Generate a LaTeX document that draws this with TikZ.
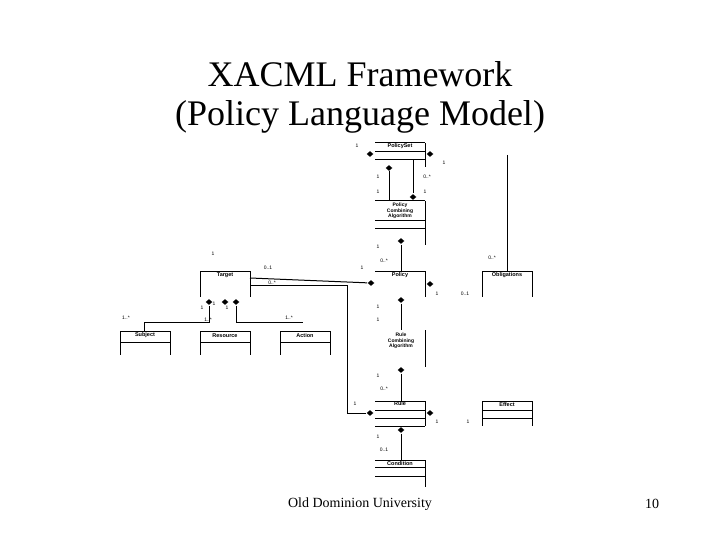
\documentclass[tikz,border=0pt]{standalone}
\usepackage{fontspec}
\usetikzlibrary{shapes.geometric}
\setmainfont{Liberation Serif}
\newfontfamily\uml{Liberation Sans}
\begin{document}
\begin{tikzpicture}[x=1pt,y=-1pt,line width=1pt,
  cls/.style={font=\uml\bfseries\fontsize{5.5}{6}\selectfont,align=center,inner sep=0},
  mult/.style={font=\uml\fontsize{5}{5}\selectfont,inner sep=0},
  dia/.style={fill=black,diamond,inner sep=0,minimum width=7pt,minimum height=6pt},
  lbl/.style={font=\fontsize{36}{38}\selectfont}]
\useasboundingbox (0,0) rectangle (720,540);
\node[lbl] (t1) at (360,74) {XACML Framework};
\node[lbl] (t2) at (360,117) {(Policy Language Model)};
\node[font=\fontsize{14}{16}\selectfont] (ft) at (360,504) {Old Dominion University};
\node[font=\fontsize{14}{16}\selectfont] (pg) at (652,504) {10};
% PolicySet
\draw (375,143)--(425,143) (375,152)--(425,152) (375,160)--(425,160) (425,143)--(425,167);
\node[cls] (ps) at (400,146) {PolicySet};
\node[dia] (psl) at (370,154) {};
\node[dia] (psr) at (430,154) {};
% PCA
\draw (375,201)--(425,201) (375,221)--(425,221) (375,229)--(425,229) (425,201)--(425,245);
\node[cls,font=\uml\bfseries\fontsize{5}{5.5}\selectfont] (pca) at (400,211) {Policy\\Combining\\Algorithm};
\node[dia] (d1) at (389,168) {};
\draw (d1)--(389,201);
\node[dia] (d2) at (413,197) {};
\draw (413,160)--(d2);
\node[dia] (d3) at (401,241) {};
% Policy
\draw (375,271)--(425,271) (425,271)--(425,297);
\node[cls] (pol) at (400,275) {Policy};
\draw (d3)--(401,271);
\node[dia] (pl) at (371,283) {};
\node[dia] (pr) at (430,284) {};
\node[dia] (pb) at (401,300) {};
% Obligations
\draw (482,271)--(532,271) (482,271)--(482,297) (532,271)--(532,297);
\node[cls] (obl) at (507,275) {Obligations};
\coordinate (oc) at (507,155);
\draw (oc)--(507,271);
% Target
\draw (200,271)--(250,271) (200,271)--(200,297) (250,271)--(250,297);
\node[cls] (tg) at (225,275) {Target};
\draw (250,278)--(pl);
\draw (250,285)--(347,285)--(347,413)--(366,413);
\node[dia] (ta) at (209,302) {};
\node[dia] (tb) at (225,302) {};
\node[dia] (tc) at (236,302) {};
% Subject, Resource, Action
\foreach \x/\n/\t in {120/sub/Subject,200/res/Resource,280/act/Action}{
 \draw (\x,331)--(\x+50,331) (\x,342)--(\x+50,342) (\x,331)--(\x,355) (\x+50,331)--(\x+50,355);
 \node[cls] (\n) at (\x+25,335.5) {\t};}
\draw (144,331)--(144,322)--(209,322)--(ta);
\draw (tc)--(236,322)--(303,322);
% RCA
\draw (425,330)--(425,367);
\node[cls,font=\uml\bfseries\fontsize{5}{5.5}\selectfont] (rca) at (401,341) {Rule\\Combining\\Algorithm};
\draw (pb)--(401,330);
\node[dia] (d4) at (401,370) {};
% Rule
\draw (375,401)--(425,401) (375,410)--(425,410) (375,418)--(425,418) (375,426)--(425,426) (425,401)--(425,426);
\node[cls] (rule) at (400,404) {Rule};
\draw (d4)--(401,401);
\node[dia] (rl) at (370,413) {};
\node[dia] (rr) at (430,413) {};
% Effect
\draw (482,401)--(532,401) (482,410)--(532,410) (482,418)--(532,418) (482,401)--(482,426) (532,401)--(532,426);
\node[cls] (eff) at (507,405) {Effect};
% Condition
\node[dia] (d5) at (401,430) {};
\draw (d5)--(401,460);
\draw (375,460)--(425,460) (375,467)--(425,467) (375,476)--(425,476) (425,460)--(425,487);
\node[cls] (cond) at (400,463.5) {Condition};
% multiplicities
\foreach \x/\y/\t in {357/146/1,444/163/1,378/177/1,427/177/0..*,378/192/1,425/192/1,
 378/247/1,384/261/0..*,362/268/1,492/258/0..*,437/294/1,465/294/0..1,
 213/254/1,268/268/0..1,272/283/0..*,202/308/1,214/304/1,227/308/1,126/318/1..*,208/320/1..*,289/318/1..*,
 378/307/1,378/320/1,378/376/1,384/389/0..*,355/404/1,437/422/1,468/422/1,378/437/1,384/450/0..1}
 \node[mult] at (\x,\y) {\t};
\end{tikzpicture}
\end{document}
